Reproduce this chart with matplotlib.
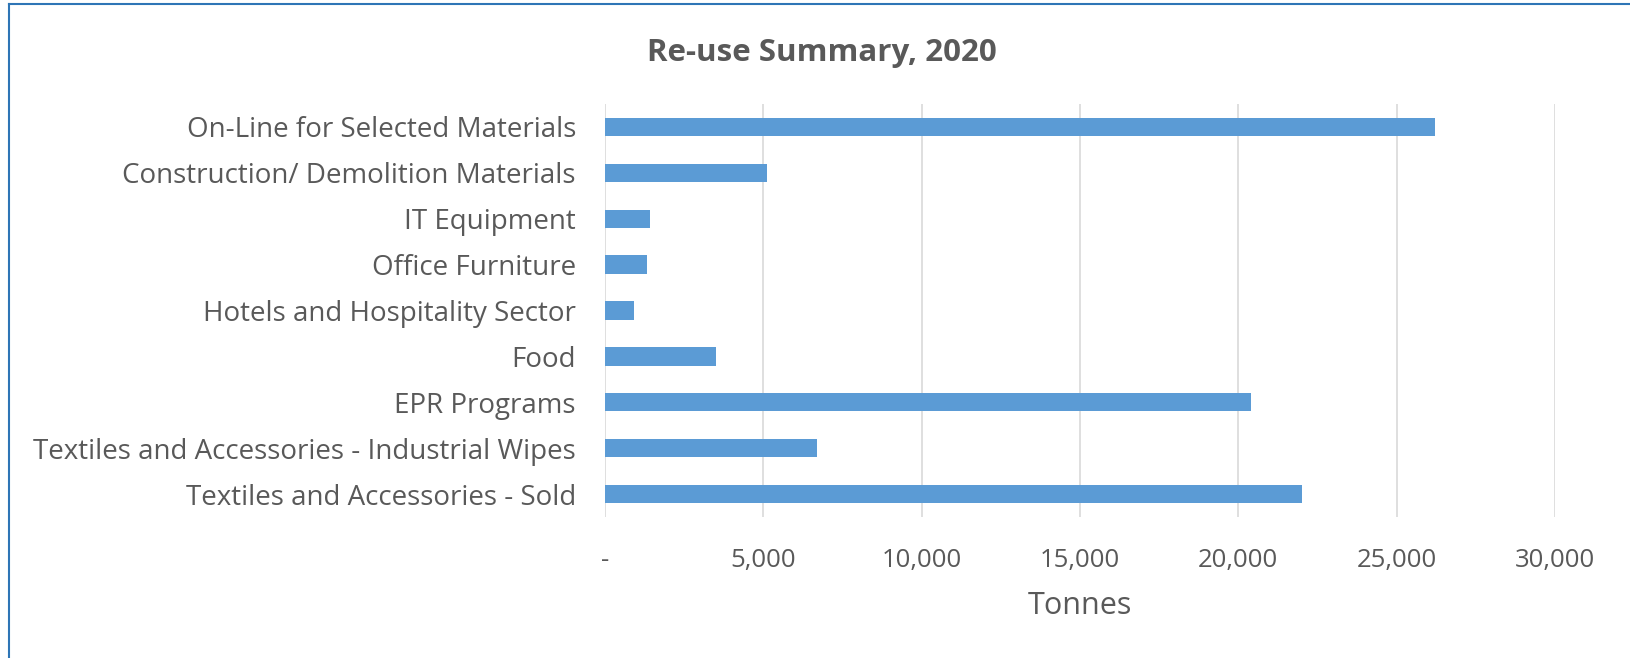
import matplotlib
matplotlib.use("Agg")
from matplotlib import pyplot as plt
from matplotlib.lines import Line2D
from matplotlib.ticker import FuncFormatter

categories = ["On-Line for Selected Materials",
              "Construction/ Demolition Materials",
              "IT Equipment",
              "Office Furniture",
              "Hotels and Hospitality Sector",
              "Food",
              "EPR Programs",
              "Textiles and Accessories - Industrial Wipes",
              "Textiles and Accessories - Sold"]
tonnes = [26200, 5100, 1420, 1320, 920, 3500, 20400, 6700, 22000]
xticks = [0, 5000, 10000, 15000, 20000, 25000, 30000]

plt.rcParams['font.family'] = ['Open Sans', 'DejaVu Sans']
textcol = "#595959"

fig = plt.figure(figsize=(16.3, 6.58), dpi=100)
ax = fig.add_axes([0.3712, 0.2143, 0.5828, 0.6277])

ypos = list(range(len(categories)))[::-1]
ax.barh(ypos, tonnes, height=0.4, color="#5B9BD5", zorder=3)

ax.set_xlim(0, 30000)
ax.set_ylim(-0.5, 8.5)
ax.set_xticks(xticks)
ax.xaxis.set_major_formatter(FuncFormatter(lambda v, p: "-" if v == 0 else f"{int(v):,}"))
ax.set_yticks(ypos)
ax.set_yticklabels(categories)
ax.grid(axis="x", color="#D9D9D9", linewidth=1.2, zorder=0)
for s in ax.spines.values():
    s.set_visible(False)
ax.tick_params(axis="both", length=0, colors=textcol, labelsize=18.5)
ax.tick_params(axis="y", pad=21, labelsize=20)
ax.tick_params(axis="x", pad=22)
ax.set_xlabel("Tonnes", fontsize=22, color=textcol, labelpad=13)

fig.text(0.504, 0.92, "Re-use Summary, 2020", ha="center", va="center",
         fontsize=22.5, fontweight="bold", color=textcol)

# blue frame on the left and top edges
fig.add_artist(Line2D([0.0055, 0.0055], [0, 0.994], transform=fig.transFigure,
                      color="#2E75B6", linewidth=1.5))
fig.add_artist(Line2D([0.0055, 1.0], [0.994, 0.994], transform=fig.transFigure,
                      color="#2E75B6", linewidth=1.5))

fig.savefig("out.png", dpi=100)
